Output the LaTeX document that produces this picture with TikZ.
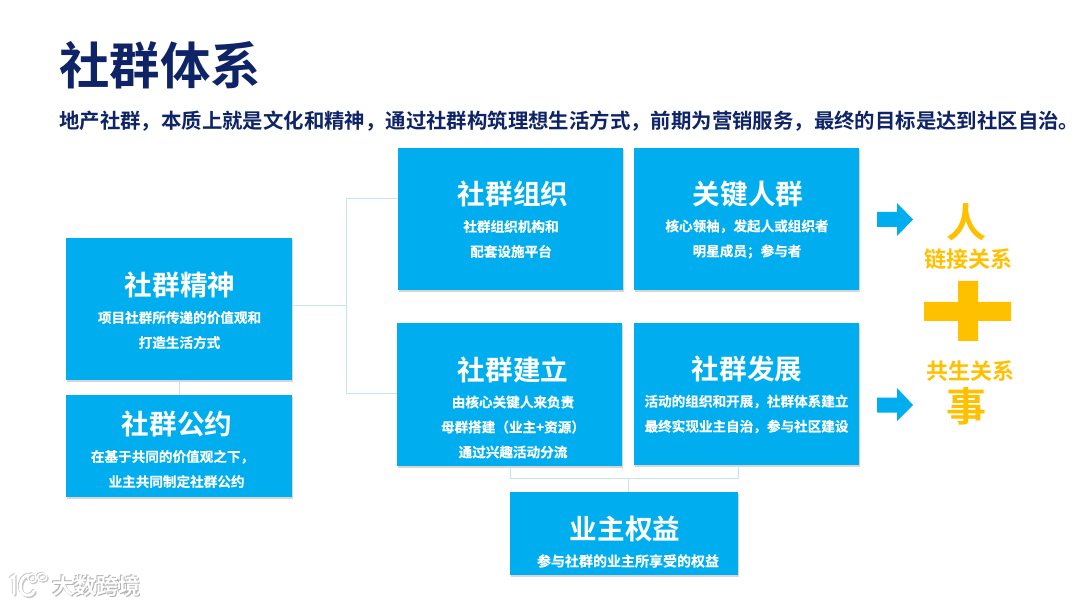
\documentclass[tikz,border=0pt]{standalone}
\usepackage{fontspec}
\setmainfont{Noto Sans CJK SC}[BoldFont={Noto Sans CJK SC Bold}]
\usetikzlibrary{shadows}
\definecolor{navy}{HTML}{0F2467}
\definecolor{boxblue}{HTML}{00AEEF}
\definecolor{gold}{HTML}{FFC000}
\definecolor{linkc}{HTML}{C6E4EC}
\newfontfamily\heavycjk{Noto Sans CJK SC Bold}[FakeBold=0.25]
\tikzset{
  panel/.style={fill=boxblue,draw=none,inner sep=0pt,anchor=north west,
    drop shadow={shadow xshift=0.5pt,shadow yshift=-1pt,fill=black!40,opacity=.4}},
  paneltitle/.style={text=white,font=\bfseries\fontsize{20.7}{24}\selectfont,inner sep=0pt},
  paneltext/.style={text=white,font=\heavycjk\fontsize{10.2}{18.75}\selectfont,align=center,inner sep=0pt},
  linkline/.style={draw=linkc,line width=0.75pt},
  goldbig/.style={text=gold,font=\bfseries\fontsize{30}{34}\selectfont,inner sep=0pt},
  goldsmall/.style={text=gold,font=\bfseries\fontsize{16.5}{20}\selectfont,inner sep=0pt},
  sidearrow/.style={fill=boxblue,draw=none},
  goldplus/.style={fill=gold,draw=none},
  markshadow/.style={text=black!30,font=\bfseries\fontsize{16.5}{18}\selectfont,inner sep=0pt},
  marktext/.style={text=white,font=\bfseries\fontsize{16.5}{18}\selectfont,inner sep=0pt},
}
\begin{document}
\begin{tikzpicture}[x=0.75pt,y=-0.75pt]
\useasboundingbox (0,0) rectangle (1080,605);
\fill[white] (0,0) rectangle (1080,605);
% headings
\node[anchor=west,inner sep=0pt,text=navy,font=\bfseries\fontsize{37.8}{42}\selectfont] (title) at (59,65) {社群体系};
\node[anchor=west,inner sep=0pt,text=navy,font=\bfseries\fontsize{15.3}{18}\selectfont] (sub) at (59,121) {地产社群，本质上就是文化和精神，通过社群构筑理想生活方式，前期为营销服务，最终的目标是达到社区自治。};
% connectors coordinates
\coordinate (jt) at (346,199);
\coordinate (jm) at (346,306);
\coordinate (jb) at (346,393);
\coordinate (bl) at (510.5,478);
\coordinate (bc) at (628,478);
\coordinate (br) at (738,478);
% panels
\node[panel,minimum width=226*0.75pt,minimum height=142*0.75pt] (spirit) at (66,238) {};
\node[panel,minimum width=226*0.75pt,minimum height=102*0.75pt] (pact) at (66,395) {};
\node[panel,minimum width=225*0.75pt,minimum height=142*0.75pt] (org) at (398,148) {};
\node[panel,minimum width=225*0.75pt,minimum height=142*0.75pt] (key) at (634,148) {};
\node[panel,minimum width=225*0.75pt,minimum height=143*0.75pt] (build) at (397,323) {};
\node[panel,minimum width=225*0.75pt,minimum height=142*0.75pt] (grow) at (634,323) {};
\node[panel,minimum width=228*0.75pt,minimum height=83*0.75pt] (rights) at (510,492) {};
% links
\draw[linkline] (spirit.east |- jm) -- (jm);
\draw[linkline] (jt) -- (jb);
\draw[linkline] (jt) -- (org.west |- jt);
\draw[linkline] (jb) -- (build.west |- jb);
\draw[linkline] (spirit.south) -- (pact.north);
\draw[linkline] (build.south -| bl) -- (bl) -- (br) -- (grow.south -| br);
\draw[linkline] (bc) -- (rights.north -| bc);
% panel text
\node[paneltitle] (t1) at (180,285) {社群精神};
\node[paneltext] (d1) at (179.5,330) {项目社群所传递的价值观和\\打造生活方式};
\node[paneltitle] (t2) at (177,424) {社群公约};
\node[paneltext] (d2) at (172.5,469) {在基于共同的价值观之下，\\\hspace*{0.6em}业主共同制定社群公约};
\node[paneltitle] (t3) at (513,194) {社群组织};
\node[paneltext] (d3) at (511,239) {社群组织机构和\\配套设施平台};
\node[paneltitle] (t4) at (748,194) {关键人群};
\node[paneltext] (d4) at (747,239) {核心领袖，发起人或组织者\\明星成员；参与者};
\node[paneltitle] (t5) at (513,370) {社群建立};
\node[paneltext] (d5) at (513,427) {由核心关键人来负责\\母群搭建（业主+资源）\\通过兴趣活动分流};
\node[paneltitle] (t6) at (747,369) {社群发展};
\node[paneltext] (d6) at (746.5,414) {活动的组织和开展，社群体系建立\\最终实现业主自治，参与社区建设};
\node[paneltitle] (t7) at (625,529) {业主权益};
\node[paneltext,font=\heavycjk\fontsize{10.5}{18.75}\selectfont] (d7) at (628,561) {参与社群的业主所享受的权益};
% arrows
\fill[sidearrow] (877,212) -- (897,212) -- (897,203) -- (913,219.5) -- (897,236) -- (897,227) -- (877,227) -- cycle;
\fill[sidearrow] (877,397.5) -- (897,397.5) -- (897,388) -- (913,405) -- (897,421) -- (897,412.5) -- (877,412.5) -- cycle;
% right column
\node[goldbig] (ren) at (966,222) {人};
\node[goldsmall] (lian) at (968,259) {链接关系};
\fill[goldplus] (958,281) rectangle (978,302) (924,302) rectangle (1011,321) (958,321) rectangle (978,341);
\node[goldsmall] (gong) at (970,371) {共生关系};
\node[goldbig] (shi) at (966,406) {事};
% watermark
\begin{scope}[line cap=round]
\foreach \o/\c in {1.4/black!22,-0.8/black!22,0/white}{
 \begin{scope}[shift={(\o,\o)}]
  \draw[\c,line width=2pt] (11,578) -- (14,576) -- (14,594);
  \draw[\c,line width=2.2pt] (28,575) .. controls (18,578) and (18,594) .. (26,595) .. controls (30,596) and (33,594) .. (34,591);
  \draw[\c,line width=1pt] (32,578) circle (4.3);
  \draw[\c,line width=1pt] (42,577) ellipse (4.8 and 3.8);
 \end{scope}}
\end{scope}
\node[markshadow] (ms) at (97.2,587.2) {大数跨境};
\node[markshadow] (ms2) at (95.2,585.2) {大数跨境};
\node[marktext] (mt) at (96,586) {大数跨境};
\end{tikzpicture}
\end{document}
